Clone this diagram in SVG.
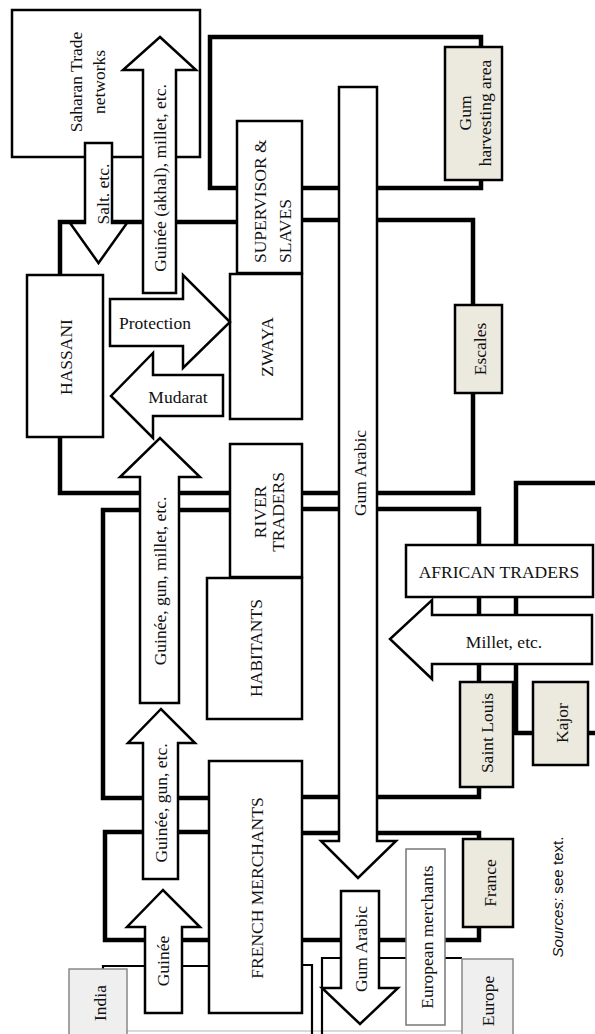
<svg xmlns="http://www.w3.org/2000/svg" width="595" height="1034" viewBox="0 0 595 1034">
<style>
.ln{fill:none;stroke:#000;stroke-width:4.5;stroke-linejoin:miter;stroke-linecap:square}
.tn{fill:none;stroke:#000;stroke-width:2.2}
.box{fill:#fff;stroke:#000;stroke-width:2.5}
.place{fill:#ECE9DF;stroke:#000;stroke-width:2.5}
.grey{fill:#EFEFEF;stroke:#888;stroke-width:1.5}
.wbox{fill:#fff;stroke:#777;stroke-width:1.5}
.arr{fill:#fff;stroke:#000;stroke-width:2.5;stroke-linejoin:miter}
text{font-family:"Liberation Serif","Times New Roman",serif;font-size:17.5px;fill:#111;text-anchor:middle}
.st{text-anchor:start}
.src{font-family:"Liberation Sans",Arial,sans-serif;font-size:15px}
</style>
<rect width="595" height="1034" fill="#fff"/>
<line x1="127" y1="1031" x2="462" y2="1031" stroke="#ccc" stroke-width="1.5"/>

<g id="connectors">
<path class="ln" d="M481,47 V37 H210 V188 H237"/>
<path class="ln" d="M302,188 H481 V180"/>
<path class="ln" d="M60,275 V222 H237"/>
<path class="ln" d="M302,220 H473 V305"/>
<path class="ln" d="M473,393 V493 H302"/>
<path class="ln" d="M60,438 V493 H230"/>
<path class="ln" d="M230,510 H103 V798 H209"/>
<path class="ln" d="M302,509 H479 V545"/>
<path class="ln" d="M597,483 H516 V545"/>
<path class="ln" d="M479,597 V682"/>
<path class="ln" d="M516,597 V733 H533"/>
<path class="ln" d="M588,733 H597"/>
<path class="ln" d="M479,787 V797 H302"/>
<path class="ln" d="M302,833 H479 V839"/>
<path class="ln" d="M302,940 H479 V927"/>
<path class="ln" d="M209,832 H105 V940 H209"/>
<path class="tn" d="M103,969 V966 H209"/>
<path class="tn" d="M302,965 H312 V1036"/>
<path class="tn" d="M322,1036 V958 H462"/>
</g>

<g id="saharan"><rect class="box" x="12" y="10" width="188" height="147"/>
<text transform="translate(76,82) rotate(-90)" dy="0.35em">Saharan Trade</text>
<text transform="translate(99,82) rotate(-90)" dy="0.35em">networks</text></g>
<g id="gum-harvesting"><rect class="place" x="445" y="47" width="57" height="133"/>
<text transform="translate(465,113) rotate(-90)" dy="0.35em">Gum</text>
<text transform="translate(485,113) rotate(-90)" dy="0.35em">harvesting area</text></g>
<g id="supervisor"><rect class="box" x="237" y="121" width="65" height="152"/>
<text class="st" transform="translate(260,263) rotate(-90)" dy="0.35em">SUPERVISOR &amp;</text>
<text class="st" transform="translate(285,263) rotate(-90)" dy="0.35em">SLAVES</text></g>
<g id="hassani"><rect class="box" x="27" y="275" width="76" height="162"/>
<text transform="translate(66,357) rotate(-90)" dy="0.35em">HASSANI</text></g>
<g id="zwaya"><rect class="box" x="230" y="274" width="72" height="145"/>
<text transform="translate(267,347) rotate(-90)" dy="0.35em">ZWAYA</text></g>
<g id="escales"><rect class="place" x="455" y="305" width="47" height="88"/>
<text transform="translate(480,349) rotate(-90)" dy="0.35em">Escales</text></g>
<g id="river-traders"><rect class="box" x="230" y="444" width="72" height="133"/>
<text transform="translate(260,512) rotate(-90)" dy="0.35em">RIVER</text>
<text transform="translate(278,512) rotate(-90)" dy="0.35em">TRADERS</text></g>
<g id="habitants"><rect class="box" x="207" y="578" width="95" height="141"/>
<text transform="translate(256,648) rotate(-90)" dy="0.35em">HABITANTS</text></g>
<g id="african-traders"><rect class="box" x="406" y="545" width="187" height="52"/>
<text x="499" y="578">AFRICAN TRADERS</text></g>
<g id="saint-louis"><rect class="place" x="460" y="682" width="53" height="105"/>
<text transform="translate(487,733) rotate(-90)" dy="0.35em">Saint Louis</text></g>
<g id="kajor"><rect class="place" x="533" y="682" width="55" height="83"/>
<text transform="translate(562,723) rotate(-90)" dy="0.35em">Kajor</text></g>
<g id="french-merchants"><rect class="box" x="209" y="761" width="93" height="252"/>
<text transform="translate(257,888) rotate(-90)" dy="0.35em">FRENCH MERCHANTS</text></g>
<g id="france"><rect class="place" x="463" y="839" width="50" height="88"/>
<text transform="translate(490,883) rotate(-90)" dy="0.35em">France</text></g>
<g id="european-merchants"><rect class="wbox" x="406" y="849" width="39" height="176"/>
<text transform="translate(427,937) rotate(-90)" dy="0.35em">European merchants</text></g>
<g id="europe"><rect class="grey" x="462" y="959" width="51" height="82"/>
<text transform="translate(488,1001) rotate(-90)" dy="0.35em">Europe</text></g>
<g id="india"><rect class="grey" x="69" y="969" width="58" height="72"/>
<text transform="translate(100,1003) rotate(-90)" dy="0.35em">India</text></g>

<g id="flows">
<polygon class="arr" points="143,293 143,70 123,70 160,37 196,70 176,70 176,293"/>
<text transform="translate(160,178) rotate(-90)" dy="0.35em">Guinée (akhal), millet, etc.</text>
<polygon class="arr" points="85,143 112,143 112,223 127,223 98.5,263 70,223 85,223"/>
<text transform="translate(103,194) rotate(-90)" dy="0.35em">Salt. etc.</text>
<polygon class="arr" points="110,299 183,299 183,275 230,322 183,368 183,346 110,346"/>
<text x="155" y="329">Protection</text>
<polygon class="arr" points="223,375 153,375 153,353 111,396 153,438 153,416 223,416"/>
<text x="178" y="403">Mudarat</text>
<polygon class="arr" points="140,703 140,477 120,477 160,438 200,477 179,477 179,703"/>
<text transform="translate(160,581) rotate(-90)" dy="0.35em">Guinée, gun, millet, etc.</text>
<polygon class="arr" points="339,87 377,87 377,841 396,841 358,878 321,841 339,841"/>
<text transform="translate(360,473) rotate(-90)" dy="0.35em">Gum Arabic</text>
<polygon class="arr" points="592,615 432,615 432,600 390,639 432,679 432,664 592,664"/>
<text x="504" y="648">Millet, etc.</text>
<polygon class="arr" points="143,879 143,743 128,743 161,709 195,743 178,743 178,879"/>
<text transform="translate(161,803) rotate(-90)" dy="0.35em">Guinée, gun, etc.</text>
<polygon class="arr" points="145,1013 145,927 127,927 163,890 200,927 182,927 182,1013"/>
<text transform="translate(163,961) rotate(-90)" dy="0.35em">Guinée</text>
<polygon class="arr" points="341,891 379,891 379,988 398,988 360,1024 322,988 341,988"/>
<text transform="translate(361,949) rotate(-90)" dy="0.35em">Gum Arabic</text>
</g>

<text class="src" transform="translate(558,897) rotate(-90)" dy="0.35em" textLength="121" lengthAdjust="spacingAndGlyphs"><tspan font-style="italic">Sources:</tspan> see text.</text>
</svg>
